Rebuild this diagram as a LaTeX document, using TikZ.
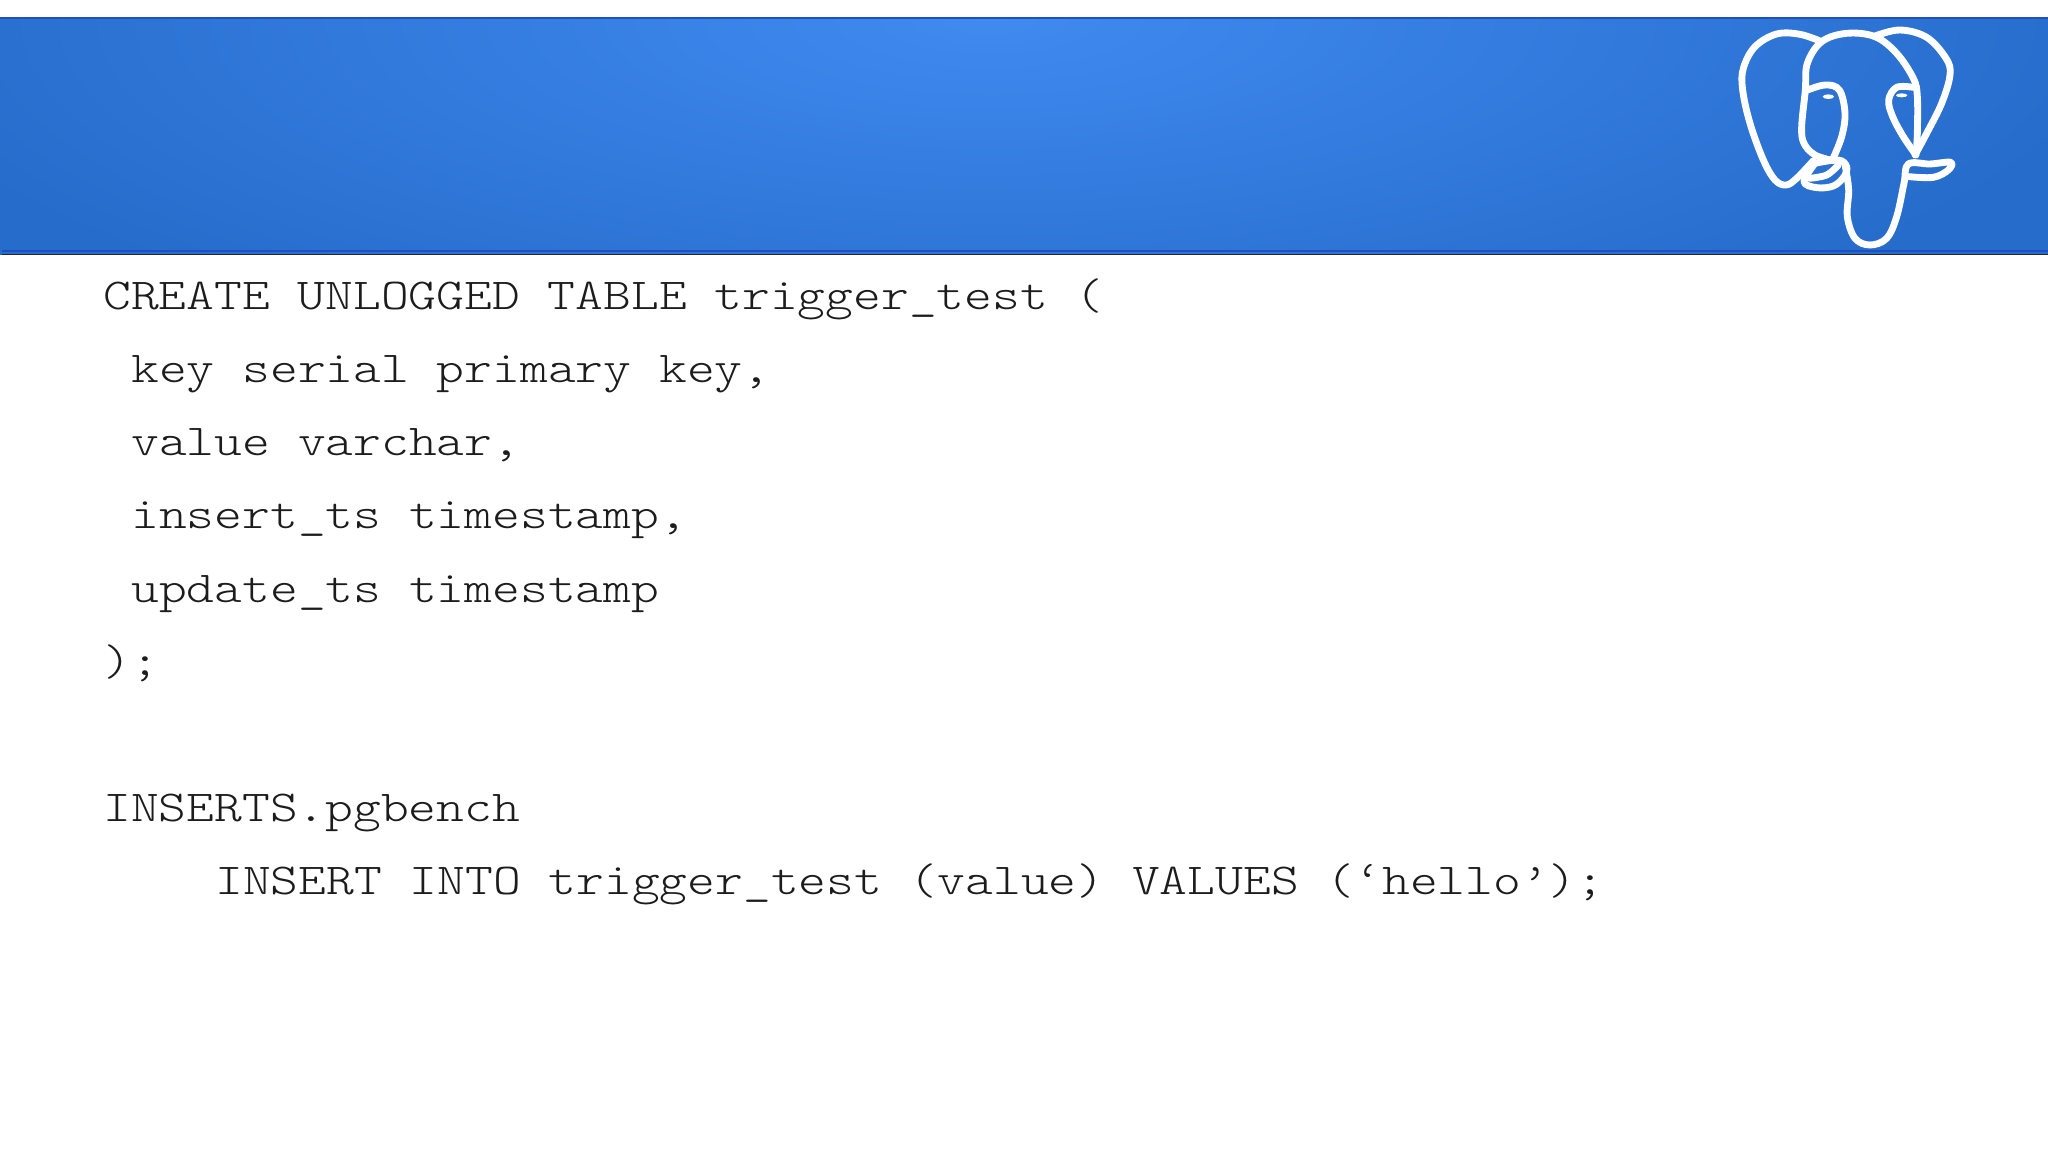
\documentclass[tikz,border=0pt]{standalone}
\usepackage{fontspec}
\setmonofont[FakeStretch=1.2]{Latin Modern Mono Light}
\definecolor{bandedge}{HTML}{266CCB}
\definecolor{bandmid}{HTML}{408AF0}
\definecolor{bandline}{HTML}{1F4FC4}
\definecolor{codeink}{HTML}{1C1C1C}
\tikzset{
codeline/.style={anchor=base west, inner sep=0pt, text=codeink, font=\ttfamily\fontsize{25.1}{30}\selectfont},
trunkline/.style={draw=white, line width=3.9pt, line cap=round, line join=round}
}
\begin{document}
\begin{tikzpicture}[x=0.02cm, y=-0.02cm]
\useasboundingbox (0,0) rectangle (2048,1150);
\fill[white] (0,0) rectangle (2048,1150);
\fill[bandedge] (0,18) rectangle (2048,254);
\begin{scope}
\clip (0,18) rectangle (2048,254);
\shade[inner color=bandmid, outer color=bandedge] (-150,-330) rectangle (2130,370);
\end{scope}
\draw[bandline, line width=1.6pt] (0,18)--(2048,18);
\draw[bandline, line width=1.6pt] (2,251)--(2048,251);
\draw[black!85, line width=1pt] (2,254.5)--(2048,254.5);
% elephant
\begin{scope}[shift={(1700,0)}, x=0.00667cm, y=-0.00667cm]
\draw[trunkline] plot[smooth, tension=0.6] coordinates {(365,125) (300,103) (230,102) (165,140) (130,205) (128,270) (150,370) (190,480) (225,540) (258,555) (290,535) (340,482)};
\draw[trunkline] plot[smooth, tension=0.6] coordinates {(400,482) (345,465) (312,430) (305,380) (316,270) (322,190) (365,125) (440,100) (525,110) (590,160) (640,235) (652,290) (652,400) (648,462)};
\draw[trunkline] plot[smooth, tension=0.6] coordinates {(318,272) (375,255) (418,270) (435,340) (425,410) (398,478)};
\draw[trunkline] plot[smooth, tension=0.6] coordinates {(525,108) (600,90) (680,112) (738,175) (750,225) (725,310) (680,400) (645,465)};
\draw[trunkline] plot[smooth, tension=0.6] coordinates {(640,262) (590,262) (566,300) (578,350) (610,410) (648,465)};
\draw[trunkline] plot[smooth, tension=0.6] coordinates {(345,490) (312,545) (350,563) (400,558) (432,530) (440,500) (415,480) (345,490)};
\draw[trunkline] plot[smooth, tension=0.6] coordinates {(328,535) (380,525) (415,495)};
\draw[trunkline] plot[smooth, tension=0.6] coordinates {(436,500) (446,570) (442,650) (465,715) (510,735) (560,715) (590,650) (612,550) (625,492) (690,492) (752,487) (745,510) (700,532) (628,530)};
\fill[white] (385,290) ellipse [x radius=17, y radius=7];
\fill[white] (605,286) ellipse [x radius=17, y radius=6];
\end{scope}
% code
\node[codeline] (createline) at (103,309) {CREATE UNLOGGED TABLE trigger\_test (};
\node[codeline] (keyline) at (131,382) {key serial primary key,};
\node[codeline] (valueline) at (131,455) {value varchar,};
\node[codeline] (insertline) at (131,528) {insert\_ts timestamp,};
\node[codeline] (updateline) at (131,602) {update\_ts timestamp};
\node[codeline] (closeline) at (103,675) {);};
\node[codeline] (fileline) at (103,821) {INSERTS.pgbench};
\node[codeline] (queryline) at (215,894) {INSERT INTO trigger\_test (value) VALUES (‘hello’);};
\end{tikzpicture}
\end{document}
